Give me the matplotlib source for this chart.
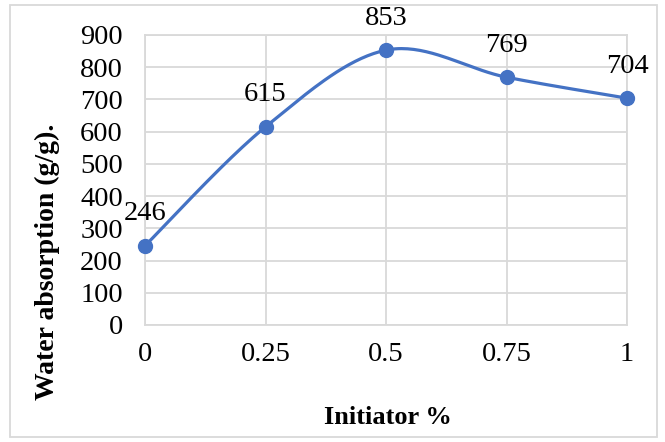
import numpy as np
import matplotlib
matplotlib.use('Agg')
import matplotlib.pyplot as plt
from matplotlib.patches import Rectangle

initiator = [0, 0.25, 0.5, 0.75, 1]
absorption = [246, 615, 853, 769, 704]
xtick_labels = ['0', '0.25', '0.5', '0.75', '1']

plt.rcParams['font.family'] = ['Liberation Serif', 'DejaVu Serif']


def smooth(xs, ys, n=40):
    # Catmull-Rom style bezier, like Excel's smoothed line
    px = np.array(xs, float)
    py = np.array(ys, float)
    ox, oy = [], []
    for i in range(len(px) - 1):
        p0 = (px[max(i - 1, 0)], py[max(i - 1, 0)])
        p1 = (px[i], py[i])
        p2 = (px[i + 1], py[i + 1])
        p3 = (px[min(i + 2, len(px) - 1)], py[min(i + 2, len(px) - 1)])
        c1 = (p1[0] + (p2[0] - p0[0]) / 6, p1[1] + (p2[1] - p0[1]) / 6)
        c2 = (p2[0] - (p3[0] - p1[0]) / 6, p2[1] - (p3[1] - p1[1]) / 6)
        t = np.linspace(0, 1, n)
        for a, b in ((0, ox), (1, oy)):
            b.extend((1 - t) ** 3 * p1[a] + 3 * (1 - t) ** 2 * t * c1[a]
                     + 3 * (1 - t) * t ** 2 * c2[a] + t ** 3 * p2[a])
    return ox, oy


fig = plt.figure(figsize=(6.65, 4.42), dpi=100)
ax = fig.add_axes([145 / 665, 1 - 325 / 442, 482 / 665, 290 / 442])

grid_c = '#D9D9D9'
sx, sy = smooth(initiator, absorption)
ax.plot(sx, sy, color='#4472C4', linewidth=2.3, zorder=3, clip_on=False)
ax.plot(initiator, absorption, 'o', color='#4472C4', markersize=10, zorder=4, clip_on=False)

for x, y in zip(initiator, absorption):
    ax.annotate(str(y), (x, y), xytext=(0, 23), textcoords='offset points',
                ha='center', va='center', fontsize=20.5)

ax.set_xlim(0, 1)
ax.set_ylim(0, 900)
ax.set_xticks(initiator)
ax.set_xticklabels(xtick_labels)
ax.set_yticks(range(0, 901, 100))
ax.tick_params(axis='both', length=0, labelsize=20.5)
ax.tick_params(axis='x', pad=12)
ax.tick_params(axis='y', pad=16)
ax.grid(True, color=grid_c, linewidth=1.3)
ax.set_axisbelow(True)
for s in ax.spines.values():
    s.set_color(grid_c)
    s.set_linewidth(1.3)

fig.text(388 / 665, 1 - 418 / 442, 'Initiator %', ha='center', va='center',
         fontsize=19, fontweight='bold')
fig.text(47 / 665, 1 - 262 / 442, 'Water absorption (g/g).', ha='center', va='center',
         rotation=90, fontsize=20, fontweight='bold')

fig.patches.append(Rectangle((10 / 665, 5 / 442), 647 / 665, 432 / 442,
                             transform=fig.transFigure, fill=False,
                             edgecolor=grid_c, linewidth=1.3))

fig.savefig('out.png', dpi=100)
